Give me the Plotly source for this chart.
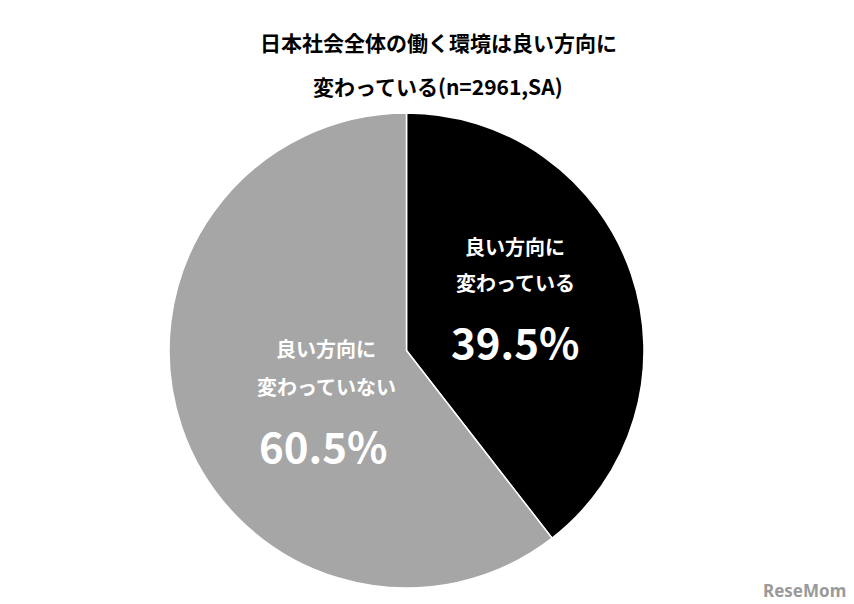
import plotly.graph_objects as go

labels = ["良い方向に<br>変わっている", "良い方向に<br>変わっていない"]
values = [39.5, 60.5]
colors = ["#000000", "#A6A6A6"]
title_lines = ["日本社会全体の働く環境は良い方向に", "変わっている(n=2961,SA)"]

W, H = 854, 604
FONT = "Noto Sans CJK JP"

fig = go.Figure(
    go.Pie(
        labels=labels,
        values=values,
        sort=False,
        direction="clockwise",
        rotation=0,
        marker=dict(colors=colors, line=dict(color="#FFFFFF", width=1.5)),
        textinfo="none",
        hoverinfo="label+percent",
        domain=dict(x=[161 / W, 636 / W], y=[24 / H, 499 / H]),
        showlegend=False,
    )
)


def add_text(x, y, text, size, color="#FFFFFF", family=FONT):
    fig.add_annotation(
        x=x / W, y=1 - y / H, xref="paper", yref="paper", yanchor="middle",
        text=f"<b>{text}</b>", showarrow=False,
        font=dict(family=family, size=size, color=color), align="center",
    )


line1, line2 = labels[0].split("<br>")
add_text(507, 238, line1, 20)
add_text(507, 274, line2, 20)
add_text(507, 332, f"{values[0]}%", 42)
line1, line2 = labels[1].split("<br>")
add_text(318, 340, line1, 20)
add_text(318, 378, line2, 20)
add_text(315, 436, f"{values[1]}%", 42)

add_text(430, 34, title_lines[0], 21, "#000000")
add_text(430, 78, title_lines[1], 21, "#000000")

fig.add_annotation(
    x=840 / W, y=1 - 582 / H, xref="paper", yref="paper", xanchor="right",
    yanchor="middle", text="<b>ReseMom</b>", showarrow=False,
    font=dict(family="Noto Sans", size=17, color="#9A9A9A"),
)

fig.update_layout(
    width=W, height=H,
    margin=dict(l=0, r=0, t=0, b=0),
    paper_bgcolor="#FFFFFF", plot_bgcolor="#FFFFFF",
    font=dict(family=FONT),
)

fig.write_html("out.html")
